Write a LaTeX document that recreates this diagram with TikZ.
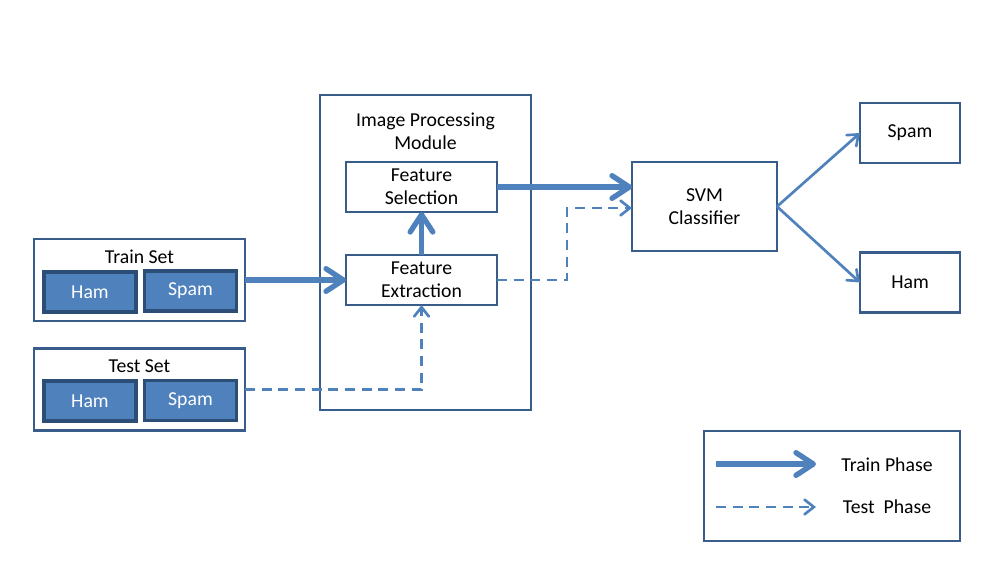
\documentclass[tikz,border=0pt]{standalone}
\usepackage{fontspec}
\setmainfont{Carlito}
\usetikzlibrary{positioning, arrows.meta}
\definecolor{boxedge}{RGB}{56,93,138}
\definecolor{arrowblue}{RGB}{79,129,189}
\definecolor{btnedge}{RGB}{44,77,117}

\begin{document}
\begin{tikzpicture}[
        x=0.75pt, y=-0.75pt,
        font=\fontsize{14.8}{17}\selectfont,
        block/.style={rectangle, draw=boxedge, fill=white, align=center,
          line width=2.1pt, inner sep=0pt, outer sep=0pt},
        button/.style={rectangle, draw=btnedge, fill=arrowblue, text=white,
          minimum width=69pt, minimum height=30pt, line width=2.6pt,
          inner sep=0pt, outer sep=0pt},
        title/.style={align=center, inner sep=0pt},
        line/.style={draw=arrowblue, line width=4pt,
          -{Straight Barb[length=13pt, width=17pt, line join=round, line cap=round]}},
        thinline/.style={draw=arrowblue, line width=2pt,
          -{Straight Barb[length=7pt, width=11pt, line cap=round]}},
        dashedline/.style={thinline, dash pattern=on 7.5pt off 5pt}
      ]
      \useasboundingbox (0,0) rectangle (996,586);

      % Input sets
      \node [block, minimum width=158.25pt, minimum height=61.5pt] (in_train) at (139.5, 280) {};
      \node [title] at (139.5, 257) {Train Set};
      \node [button] (train_ham) at (90, 292) {Ham};
      \node [button] (train_spam) at (190.5, 291) {Spam};

      \node [block, minimum width=158.25pt, minimum height=61.5pt] (in_test) at (139.5, 389.5) {};
      \node [title] at (139.5, 366) {Test Set};
      \node [button] (test_ham) at (90, 401) {Ham};
      \node [button] (test_spam) at (190.5, 400.5) {Spam};

      % Image processing module
      \node [block, minimum width=158.25pt, minimum height=236.25pt] (m_box) at (425.5, 252.5) {};
      \node [title] at (425.5, 131) {Image Processing\\Module};
      \node [block, minimum width=113.25pt, minimum height=37.5pt] (m_sel) at (421.5, 187) {Feature\\Selection};
      \node [block, minimum width=113.25pt, minimum height=37.5pt] (m_ext) at (421.5, 280) {Feature\\Extraction};

      % Classifier and outputs
      \node [block, minimum width=108.75pt, minimum height=66.75pt] (svm) at (704.5, 206.5) {SVM\\Classifier};
      \node [block, minimum width=75pt, minimum height=45pt] (out_spam) at (910, 133) {Spam};
      \node [block, minimum width=75pt, minimum height=45pt] (out_ham) at (910, 282.5) {Ham};

      % Legend
      \node [block, minimum width=192pt, minimum height=82.5pt] (legend) at (832, 486) {};
      \coordinate (lg_a) at (716, 464);
      \coordinate (lg_b) at (816, 464);
      \coordinate (lg_c) at (716, 507);
      \coordinate (lg_d) at (816, 507);
      \node [title] (lg_train) at (887, 465) {Train Phase};
      \node [title] (lg_test) at (887, 507) {Test\ \ Phase};
      \path [line] (lg_a) -- (lg_b);
      \path [dashedline] (lg_c) -- (lg_d);

      % Train phase paths
      \path [line] (in_train.east) -- (m_ext.west);
      \path [line] (m_ext.north) -- (m_sel.south);
      \path [line] (m_sel.east) -- (svm.west |- m_sel.east);

      % Test phase paths
      \path [dashedline] (in_test.east) -- (m_ext.south |- in_test.east) -- (m_ext.south);
      \path [dashedline] (m_ext.east) -- (567, 280) -- (567, 208) -- (svm.west |- 0, 208);

      % Classifier outputs
      \path [thinline] (svm.east) -- (out_spam.west);
      \path [thinline] (svm.east) -- (out_ham.west);

    \end{tikzpicture}
\end{document}
